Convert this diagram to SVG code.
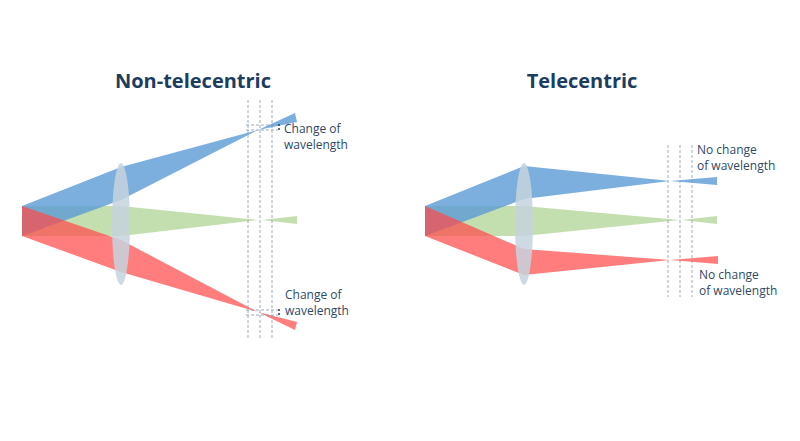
<svg xmlns="http://www.w3.org/2000/svg" width="800" height="441" viewBox="0 0 800 441">
<style>
.t{font-family:"Open Sans","Liberation Sans",sans-serif;font-weight:bold;font-size:20px;fill:#1c3d5e;text-anchor:middle}
.l{font-family:"Open Sans","Liberation Sans",sans-serif;font-size:12px;fill:#2e4a66}
.b{fill:#5b9bd5;opacity:.8}
.g{fill:#a9d18e;opacity:.7}
.r{fill:#ff4b4b;opacity:.72}
.lens{fill:#c5d3de;opacity:.85}
.d{stroke:#7f9aac;stroke-width:.8;stroke-dasharray:3,2;fill:none}
.k{stroke:#1c3d5e;stroke-width:1.5;stroke-dasharray:2,2;fill:none}
</style>
<rect width="800" height="441" fill="#fff"/>
<text class="t" x="193" y="88">Non-telecentric</text>
<text class="t" x="582" y="88">Telecentric</text>
<g id="left">
<polygon class="g" points="22,206 121,206 258,220 121,236 22,236"/>
<polygon class="g" points="262,220 297,216 297,224"/>
<polygon class="b" points="22,206 121,167 258,130 121,200 22,236"/>
<polygon class="b" points="258,130 295,113 297,122"/>
<polygon class="r" points="22,206 121,240 258,312 121,272 22,236"/>
<polygon class="r" points="258,312 297,322 295,330"/>
<ellipse class="lens" cx="121" cy="224" rx="9" ry="61"/>
</g>
<g id="right">
<polygon class="g" points="425,206 524,206 680,220 524,236 425,236"/>
<polygon class="g" points="682,220 717,216 717,224"/>
<polygon class="b" points="425,206 524,166 670,181 524,199 425,236"/>
<polygon class="b" points="670,181 717,177 717,185"/>
<polygon class="r" points="425,206 524,249 670,260 524,275 425,236"/>
<polygon class="r" points="670,260 718,256 718,264"/>
<ellipse class="lens" cx="524" cy="224" rx="9" ry="61"/>
</g>
<g id="connectors">
<path class="d" d="M248,100V340M260,100V340M272,100V340M246,125H278M246,130H278M246,310H278M246,315H278"/>
<path class="k" d="M279,124V132M279,309V317"/>
<path class="d" d="M668,145V297M680,145V297M692,145V297"/>
</g>
<g id="labels">
<text class="l" x="284" y="133">Change of</text>
<text class="l" x="284" y="149">wavelength</text>
<text class="l" x="285" y="299">Change of</text>
<text class="l" x="285" y="315">wavelength</text>
<text class="l" x="697" y="154">No change</text>
<text class="l" x="697" y="170">of wavelength</text>
<text class="l" x="699" y="279">No change</text>
<text class="l" x="699" y="295">of wavelength</text>
</g>
</svg>
